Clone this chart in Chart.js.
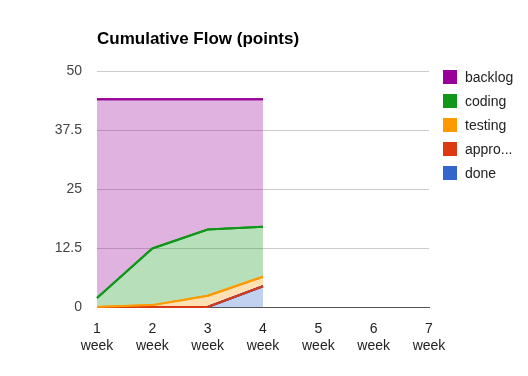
<!DOCTYPE html>
<html>
<head>
<meta charset="utf-8">
<script src="https://cdn.jsdelivr.net/npm/chart.js@4"></script>
<style>
  body { margin: 0; background: #fff; font-family: Arial, "Liberation Sans", sans-serif; }
  #wrap { position: relative; width: 528px; height: 376px; }
  #title { position: absolute; left: 97px; top: 29px; font-size: 17px; font-weight: bold; color: #000; }
  #legend { position: absolute; left: 443px; top: 69px; font-size: 14px; color: #222; }
  #legend div { height: 24px; line-height: 16px; white-space: nowrap; }
  #legend span { display: inline-block; width: 14px; height: 14px; vertical-align: -2px; margin-right: 8px; }
</style>
</head>
<body>
<div id="wrap">
  <canvas id="cfd" width="528" height="376"></canvas>
  <div id="title">Cumulative Flow (points)</div>
  <div id="legend"></div>
</div>
<script>
// semanas
const weeks = [['1', 'week'], ['2', 'week'], ['3', 'week'], ['4', 'week'], ['5', 'week'], ['6', 'week'], ['7', 'week']];
const yTicks = [0, 12.5, 25, 37.5, 50];

// puntos por estado (apilados)
const done = [0, 0, 0, 4.4];
const approved = [0, 0, 0, 0];
const testing = [0, 0.4, 2.4, 2];
const coding = [1.9, 12, 14, 10.6];
const backlog = [42.1, 31.6, 27.6, 27];

const series = [
    { label: 'done', short: 'done', data: done, color: '#3366cc', fill: 'rgba(51,102,204,0.3)' },
    { label: 'approved', short: 'appro...', data: approved, color: '#dc3912', fill: 'rgba(220,57,18,0.3)' },
    { label: 'testing', short: 'testing', data: testing, color: '#ff9900', fill: 'rgba(255,153,0,0.3)' },
    { label: 'coding', short: 'coding', data: coding, color: '#109618', fill: 'rgba(16,150,24,0.3)' },
    { label: 'backlog', short: 'backlog', data: backlog, color: '#990099', fill: 'rgba(153,0,153,0.3)' }
];

// redibuja las lineas para que las de arriba queden encima
const linesOnTop = {
    id: 'linesOnTop',
    afterDatasetsDraw(chart) {
        const c = chart.ctx;
        const a = chart.chartArea;
        c.save();
        c.beginPath();
        c.rect(a.left - 2, a.top - 2, a.right - a.left + 4, a.bottom - a.top + 4);
        c.clip();
        for (let i = 0; i < chart.data.datasets.length; i++) {
            chart.getDatasetMeta(i).dataset.draw(c, a);
        }
        c.restore();
    }
};

const ctx = document.getElementById('cfd').getContext('2d');
const chart = new Chart(ctx, {
    type: 'line',
    data: {
        labels: weeks,
        datasets: series.map((s, i) => ({
            label: s.label,
            data: s.data,
            borderColor: s.color,
            backgroundColor: s.fill,
            borderWidth: 2,
            pointRadius: 0,
            tension: 0,
            fill: i === 0 ? 'origin' : '-1'
        }))
    },
    options: {
        responsive: false,
        animation: false,
        layout: { padding: { left: 0, right: 99, top: 71, bottom: 0 } },
        plugins: {
            legend: { display: false },
            title: { display: false },
            tooltip: { enabled: false }
        },
        scales: {
            x: {
                offset: false,
                grid: { display: false },
                border: { color: '#555', width: 1 },
                ticks: {
                    color: '#222',
                    font: { size: 14, family: 'Arial' },
                    maxRotation: 0,
                    autoSkip: false,
                    padding: 6
                },
                afterFit: (scale) => { scale.height = 69; }
            },
            y: {
                stacked: true,
                min: 0,
                max: 50,
                afterBuildTicks: (scale) => { scale.ticks = yTicks.map(v => ({ value: v })); },
                grid: { color: '#cccccc', drawTicks: false },
                border: { display: false },
                ticks: {
                    color: '#444',
                    font: { size: 14, family: 'Arial' },
                    padding: 15
                },
                afterFit: (scale) => { scale.width = 97; }
            }
        }
    },
    plugins: [linesOnTop]
});

// leyenda
const legend = document.getElementById('legend');
series.slice().reverse().forEach(s => {
    const row = document.createElement('div');
    row.innerHTML = '<span style="background:' + s.color + '"></span>' + s.short;
    legend.appendChild(row);
});
</script>
</body>
</html>
